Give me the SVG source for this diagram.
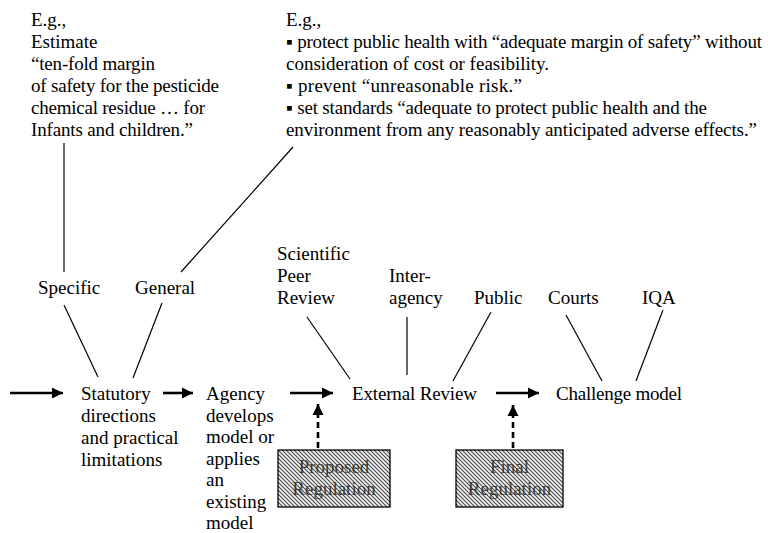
<svg xmlns="http://www.w3.org/2000/svg" width="768" height="533" viewBox="0 0 768 533">
  <style>
    text { font-family: 'Liberation Serif', 'DejaVu Serif', serif; font-size: 19px; fill: #000; }
    .thin { stroke: #000; stroke-width: 1.2; fill: none; }
    .flow { stroke: #000; stroke-width: 2.6; fill: none; }
    .dash { stroke: #000; stroke-width: 2.6; fill: none; stroke-dasharray: 6 4; }
    .box { fill: url(#hatch); stroke: #000; stroke-width: 1.3; }
    .boxtext { fill: #3a3a3a; text-anchor: middle; }
  </style>
  <defs>
    <pattern id="hatch" patternUnits="userSpaceOnUse" width="4" height="4">
      <rect width="4" height="4" fill="#f2f2f2"/>
      <path d="M-1,-1 L5,5 M-1,3 L1,5 M3,-1 L5,1" stroke="#4a4a4a" stroke-width="1.1"/>
    </pattern>
    <marker id="head" viewBox="0 0 10 10" refX="10" refY="5" markerWidth="4.4" markerHeight="4.4" markerUnits="strokeWidth" orient="auto">
      <path d="M0,0 L10,5 L0,10 Z" fill="#000"/>
    </marker>
  </defs>

  <!-- example notes -->
  <g id="note-specific">
    <text x="31" y="26">E.g.,</text>
    <text x="31" y="48">Estimate</text>
    <text x="31" y="70" textLength="124">“ten-fold margin</text>
    <text x="31" y="92" textLength="188">of safety for the pesticide</text>
    <text x="31" y="114" textLength="174">chemical residue … for</text>
    <text x="31" y="136" textLength="162">Infants and children.”</text>
  </g>
  <g id="note-general">
    <text x="286" y="26">E.g.,</text>
    <text x="286" y="48" textLength="476">▪ protect public health with “adequate margin of safety” without</text>
    <text x="286" y="70">consideration of cost or feasibility.</text>
    <text x="286" y="92" textLength="236">▪ prevent “unreasonable risk.”</text>
    <text x="286" y="114" textLength="421">▪ set standards “adequate to protect public health and the</text>
    <text x="286" y="136" textLength="471">environment from any reasonably anticipated adverse effects.”</text>
  </g>

  <!-- direction types -->
  <g id="specific"><text x="38" y="294">Specific</text></g>
  <g id="general"><text x="135" y="294">General</text></g>

  <!-- review sources -->
  <g id="peer-review">
    <text x="277" y="260">Scientific</text>
    <text x="277" y="282">Peer</text>
    <text x="277" y="304">Review</text>
  </g>
  <g id="interagency">
    <text x="389" y="282">Inter-</text>
    <text x="389" y="304">agency</text>
  </g>
  <g id="public"><text x="474" y="304">Public</text></g>
  <g id="courts"><text x="548" y="304">Courts</text></g>
  <g id="iqa"><text x="642" y="304">IQA</text></g>

  <!-- main flow -->
  <g id="statutory">
    <text x="81" y="400">Statutory</text>
    <text x="81" y="422">directions</text>
    <text x="81" y="444">and practical</text>
    <text x="81" y="466">limitations</text>
  </g>
  <g id="agency">
    <text x="206" y="400">Agency</text>
    <text x="206" y="421.5">develops</text>
    <text x="206" y="443">model or</text>
    <text x="206" y="464.5">applies</text>
    <text x="206" y="486">an</text>
    <text x="206" y="507.5">existing</text>
    <text x="206" y="529">model</text>
  </g>
  <g id="external-review"><text x="352" y="400" textLength="125">External Review</text></g>
  <g id="challenge"><text x="556" y="400" textLength="126">Challenge model</text></g>

  <!-- regulation boxes -->
  <g id="proposed-regulation">
    <rect class="box" x="278" y="450" width="112" height="57"/>
    <text class="boxtext" x="334" y="473">Proposed</text>
    <text class="boxtext" x="334" y="495">Regulation</text>
  </g>
  <g id="final-regulation">
    <rect class="box" x="456" y="450" width="107" height="57"/>
    <text class="boxtext" x="509.5" y="473">Final</text>
    <text class="boxtext" x="509.5" y="495">Regulation</text>
  </g>

  <!-- connectors -->
  <g id="connectors">
    <line class="thin" x1="64" y1="143" x2="64" y2="272"/>
    <line class="thin" x1="293" y1="147" x2="181" y2="272"/>
    <line class="thin" x1="64" y1="305" x2="98" y2="377"/>
    <line class="thin" x1="162" y1="303" x2="133" y2="378"/>
    <line class="thin" x1="307" y1="317" x2="350" y2="379"/>
    <line class="thin" x1="407" y1="317" x2="407" y2="375"/>
    <line class="thin" x1="491" y1="312" x2="453" y2="381"/>
    <line class="thin" x1="566" y1="315" x2="602" y2="381"/>
    <line class="thin" x1="663" y1="310" x2="636" y2="381"/>

    <line class="flow" x1="10" y1="393" x2="63" y2="393" marker-end="url(#head)"/>
    <line class="flow" x1="163" y1="393" x2="193" y2="393" marker-end="url(#head)"/>
    <line class="flow" x1="290" y1="393" x2="333" y2="393" marker-end="url(#head)"/>
    <line class="flow" x1="496" y1="393" x2="539" y2="393" marker-end="url(#head)"/>

    <line class="dash" x1="318" y1="448" x2="318" y2="404" marker-end="url(#head)"/>
    <line class="dash" x1="513" y1="448" x2="513" y2="405" marker-end="url(#head)"/>
  </g>
</svg>
